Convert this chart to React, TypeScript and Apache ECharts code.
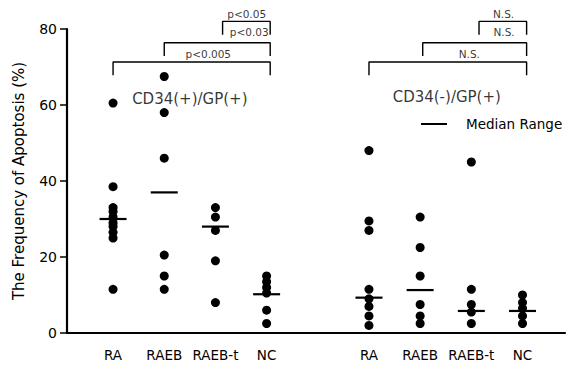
import React, { useEffect, useRef } from "react";
import * as echarts from "echarts";

// ---- data ----
const categories = ["RA", "RAEB", "RAEB-t", "NC"];
const panelOffsets = [0, 5];
const panelTitles = ["CD34(+)/GP(+)", "CD34(-)/GP(+)"];

const leftValues: number[][] = [
  [60.5, 38.5, 33, 32, 30.5, 29, 28, 26.5, 25, 11.5],
  [67.5, 58, 46, 20.5, 15, 11.5],
  [33, 30.5, 27, 19, 8],
  [15, 13.5, 12, 10.5, 6, 2.5],
];
const rightValues: number[][] = [
  [48, 29.5, 27, 11.5, 9, 7, 4.5, 2],
  [30.5, 22.5, 15, 7.5, 4.5, 2.5],
  [45, 11.5, 7.5, 5.5, 2.5],
  [10, 8, 6.5, 4.5, 2.5],
];
const leftMedians = [30, 37, 28, 10.2];
const rightMedians = [9.3, 11.3, 5.8, 5.8];

const yTicks = [0, 20, 40, 60, 80];

// significance brackets (in data units)
const bracketStarts = [
  [2.14, 1.0, 0.0],
  [7.15, 6.05, 5.0],
];
const bracketEnds = [3.07, 8.08];
const bracketTops = [82.0, 76.4, 71.3];
const bracketDrop = 3.5;
const pLabels = [
  ["p<0.05", "p<0.03", "p<0.005"],
  ["N.S.", "N.S.", "N.S."],
];
const pLabelX = [
  [2.61, 2.66, 1.86],
  [7.63, 7.64, 6.96],
];
const pLabelY = [83.9, 79.2, 73.5];
const titleX = [1.5, 6.52];
const titleY = [61.6, 62.1];

const FONT = "DejaVu Sans";

export default function App() {
  const ref = useRef<HTMLDivElement>(null);

  useEffect(() => {
    if (!ref.current) return;
    const chart = echarts.init(ref.current, undefined, { renderer: "svg" });

    const groups = [leftValues, rightValues];
    const medians = [leftMedians, rightMedians];

    const dots: number[][] = [];
    groups.forEach((g, p) =>
      g.forEach((vals, i) => vals.forEach((v) => dots.push([panelOffsets[p] + i, v])))
    );
    const medianPts: number[][] = [];
    medians.forEach((m, p) => m.forEach((v, i) => medianPts.push([panelOffsets[p] + i, v])));

    const bracketSeries: any[] = [];
    bracketStarts.forEach((starts, p) =>
      starts.forEach((x0, k) => {
        const x1 = bracketEnds[p];
        const top = bracketTops[k];
        bracketSeries.push({
          type: "line",
          silent: true,
          clip: false,
          symbol: "none",
          lineStyle: { color: "#000", width: 1.4 },
          data: [
            [x0, top - bracketDrop],
            [x0, top],
            [x1, top],
            [x1, top - bracketDrop],
          ],
        });
      })
    );

    const annots: any[] = [];
    pLabels.forEach((row, p) =>
      row.forEach((t, k) =>
        annots.push({
          value: [pLabelX[p][k], pLabelY[k]],
          label: { formatter: t, fontSize: 10.5 },
        })
      )
    );
    panelTitles.forEach((t, p) =>
      annots.push({
        value: [titleX[p], titleY[p]],
        label: { formatter: t, fontSize: 15 },
      })
    );

    chart.setOption({
      animation: false,
      backgroundColor: "#fff",
      textStyle: { fontFamily: FONT, color: "#000" },
      grid: { left: 67, right: 7, top: 29, bottom: 32 },
      legend: {
        data: ["Median Range"],
        left: 421,
        top: 117,
        padding: 0,
        icon: "rect",
        itemWidth: 26,
        itemHeight: 2,
        textStyle: { fontSize: 13.5, color: "#000", fontFamily: FONT, padding: [0, 0, 0, 14] },
        selectedMode: false,
      },
      xAxis: {
        type: "value",
        min: -0.9,
        max: 8.83,
        splitLine: { show: false },
        axisTick: { show: false },
        axisLine: { show: true, onZero: false, lineStyle: { color: "#000", width: 2.2 } },
        axisLabel: {
          customValues: [0, 1, 2, 3, 5, 6, 7, 8],
          margin: 15,
          fontSize: 13.5,
          color: "#000",
          fontFamily: FONT,
          formatter: (v: number) => {
            const i = Math.round(v);
            if (i < 4) return categories[i] ?? "";
            if (i >= 5) return categories[i - 5] ?? "";
            return "";
          },
        },
      },
      yAxis: {
        type: "value",
        min: yTicks[0],
        max: yTicks[yTicks.length - 1],
        interval: 20,
        name: "The Frequency of Apoptosis (%)",
        nameLocation: "middle",
        nameRotate: 90,
        nameGap: 41,
        nameTextStyle: { fontSize: 15, color: "#000", fontFamily: FONT },
        splitLine: { show: false },
        axisLine: { show: true, onZero: false, lineStyle: { color: "#000", width: 2.2 } },
        axisTick: { show: true, length: 7, lineStyle: { color: "#000", width: 1.5 } },
        axisLabel: { margin: 10, fontSize: 14, color: "#000", fontFamily: FONT },
      },
      series: [
        {
          type: "scatter",
          symbol: "circle",
          symbolSize: 9,
          itemStyle: { color: "#000", opacity: 1 },
          data: dots,
          silent: true,
        },
        {
          name: "Median Range",
          type: "scatter",
          symbol: "rect",
          symbolSize: [27, 2.2],
          itemStyle: { color: "#000", opacity: 1 },
          data: medianPts,
          silent: true,
        },
        ...bracketSeries,
        {
          type: "scatter",
          symbolSize: 0,
          clip: false,
          silent: true,
          itemStyle: { color: "transparent" },
          label: { show: true, position: "inside", color: "#000", fontFamily: FONT },
          data: annots,
        },
      ],
    });

    return () => chart.dispose();
  }, []);

  return (
    <div
      ref={ref}
      style={{ position: "absolute", left: 0, top: 0, width: 572, height: 365, background: "#fff" }}
    />
  );
}
